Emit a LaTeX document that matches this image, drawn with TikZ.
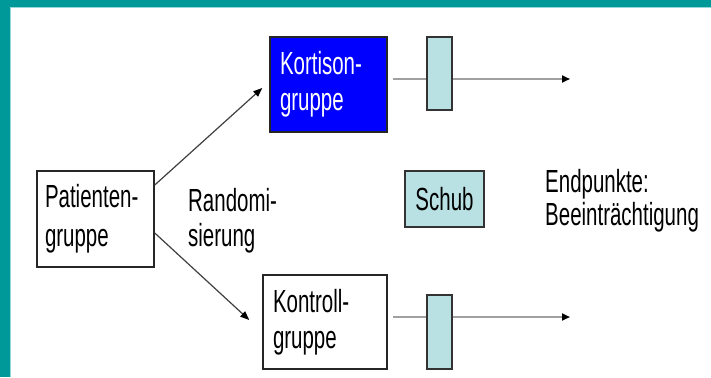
\documentclass[tikz,border=0pt]{standalone}
\usepackage{fontspec}
\setmainfont{Liberation Sans}[FakeStretch=0.64]
\usetikzlibrary{arrows.meta}
\definecolor{teal0}{RGB}{0,153,153}
\definecolor{tealL}{RGB}{150,215,215}
\definecolor{lcyan}{RGB}{185,224,226}
\definecolor{boxblue}{RGB}{0,0,255}
\definecolor{lgray}{RGB}{160,160,160}
\begin{document}
\begin{tikzpicture}[x=1pt,y=-1pt,
  box/.style={draw=black!85,line width=1.5pt,inner ysep=0pt,align=left,
    font=\fontsize{32}{36}\selectfont},
  bar/.style={draw=black!80,line width=1.3pt,fill=lcyan,inner sep=0pt,minimum width=25pt},
  txt/.style={font=\fontsize{32}{35}\selectfont,align=left,anchor=west,inner sep=0pt},
  arr/.style={draw=black!75,line width=1.2pt,-{Triangle[length=9pt,width=7pt,color=black]}},
  hline/.style={draw=lgray,line width=2.2pt,-{Triangle[length=8pt,width=7pt,color=black]}}]
\useasboundingbox (0,0) rectangle (711,377);
\fill[white] (0,0) rectangle (711,377);
% frame
\fill[teal0] (0,0) rectangle (711,7);
\fill[teal0] (0,0) rectangle (10,377);
\draw[tealL,line width=0.8pt] (10,7.5) -- (711,7.5);
\draw[tealL,line width=0.8pt] (10.5,7.5) -- (10.5,377);
% boxes
\node[box,font=\fontsize{32}{39}\selectfont,text width=101pt,inner xsep=8pt,minimum height=96pt] (patient) at (95.5,219) {Patienten-\\gruppe};
\node[box,fill=boxblue,text=white,text width=97pt,inner xsep=10pt,minimum height=95pt] (kort) at (328.5,84.5) {Kortison-\\gruppe};
\node[box,text width=104pt,inner xsep=10pt,minimum height=94pt] (kontr) at (325,322) {Kontroll-\\gruppe};
\node[box,draw=black!80,fill=lcyan,align=center,minimum width=79pt,minimum height=56pt,inner xsep=0pt] (schub) at (444.5,199) {Schub};
% texts
\node[txt] (rand) at (188,221) {Randomi-\\sierung};
\node[txt,font=\fontsize{32}{33}\selectfont] (endp) at (545,201) {Endpunkte:\\Beeinträchtigung};
% horizontal timelines
\coordinate (l1s) at (393,79);
\coordinate (l1e) at (570,79);
\coordinate (l2s) at (393,317);
\coordinate (l2e) at (570,317);
\draw[hline] (l1s) -- (l1e);
\draw[hline] (l2s) -- (l2e);
\node[bar,minimum height=73pt] (r1) at (439.5,73.5) {};
\node[bar,minimum height=74pt] (r2) at (439.5,332) {};
% randomisation arrows
\draw[arr] ([yshift=34pt]patient.east) -- ([xshift=-7pt,yshift=-3.5pt]kort.west);
\draw[arr] ([yshift=-14pt]patient.east) -- ([xshift=-13pt,yshift=2pt]kontr.west);
\end{tikzpicture}
\end{document}
